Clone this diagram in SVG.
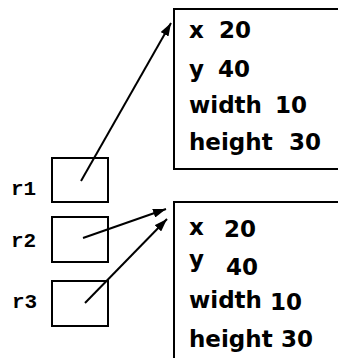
<svg xmlns="http://www.w3.org/2000/svg" width="338" height="358" viewBox="0 0 338 358">
<style>
.box{fill:none;stroke:#000;stroke-width:2}
.t{font-family:"DejaVu Sans",sans-serif;font-weight:bold;font-size:23px;fill:#000}
.lbl{font-family:"Liberation Mono",monospace;font-weight:bold;font-size:21px;fill:#000}
.c{fill:none;stroke:#000;stroke-width:2}
</style>
<defs>
<marker id="ah" viewBox="0 0 13 9" refX="13" refY="4.5" markerWidth="13" markerHeight="9" markerUnits="userSpaceOnUse" orient="auto">
<path d="M0,0 L13,4.5 L0,9 Z" fill="#000"/>
</marker>
</defs>
<rect width="338" height="358" fill="#fff"/>
<g id="obj1">
<rect class="box" x="174" y="9" width="200" height="160"/>
<text class="t" x="189" y="38">x</text><text class="t" x="219" y="38">20</text>
<text class="t" x="189" y="77">y</text><text class="t" x="218" y="77">40</text>
<text class="t" x="189" y="113">width</text><text class="t" x="275" y="113">10</text>
<text class="t" x="189" y="150">height</text><text class="t" x="289" y="150">30</text>
</g>
<g id="obj2">
<rect class="box" x="174" y="202" width="200" height="200"/>
<text class="t" x="189" y="235">x</text><text class="t" x="224" y="237">20</text>
<text class="t" x="189" y="267">y</text><text class="t" x="226" y="275">40</text>
<text class="t" x="189" y="308">width</text><text class="t" x="270" y="310">10</text>
<text class="t" x="189" y="347">height</text><text class="t" x="281" y="347">30</text>
</g>
<g id="r1"><text class="lbl" x="11" y="195">r1</text><rect class="box" x="52" y="158" width="56" height="44"/></g>
<g id="r2"><text class="lbl" x="11" y="247">r2</text><rect class="box" x="52" y="217" width="56" height="45"/></g>
<g id="r3"><text class="lbl" x="12" y="308">r3</text><rect class="box" x="52" y="281" width="56" height="45"/></g>
<g id="connectors">
<line class="c" x1="81" y1="181" x2="171" y2="23" marker-end="url(#ah)"/>
<line class="c" x1="83" y1="238" x2="166" y2="209" marker-end="url(#ah)"/>
<line class="c" x1="85" y1="303" x2="167" y2="219" marker-end="url(#ah)"/>
</g>
</svg>
